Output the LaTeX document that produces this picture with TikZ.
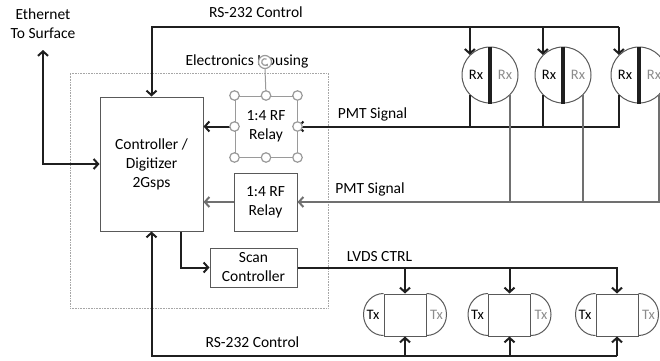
\documentclass[tikz,border=0pt]{standalone}
\usepackage{fontspec}
\setmainfont{Carlito}
\usetikzlibrary{arrows.meta}
\definecolor{boxc}{HTML}{595959}
\definecolor{linec}{HTML}{1F1F1F}
\definecolor{grayc}{HTML}{707070}
\definecolor{txtgray}{HTML}{8C8C8C}
\definecolor{hdlc}{HTML}{9A9A9A}
\definecolor{housec}{HTML}{A6A6A6}
\newcommand\dgfont{\fontsize{15.5}{19}\selectfont}
\newcommand\dgsmall{\fontsize{14.5}{16}\selectfont}
\begin{document}
\begin{tikzpicture}[x=1pt,y=1pt,
  box/.style={draw=boxc, line width=1pt, fill=white, align=center, font=\dgfont, inner sep=0pt},
  lbl/.style={font=\dgfont, inner sep=0pt, align=center, text=black},
  small/.style={font=\dgsmall, inner sep=0pt},
  wire/.style={draw=linec, line width=2pt},
  gwire/.style={draw=grayc, line width=2pt},
  tip/.style={-{Straight Barb[length=4.5pt,width=10pt]}},
  tips/.style={{Straight Barb[length=4.5pt,width=10pt]}-{Straight Barb[length=4.5pt,width=10pt]}},
  rxc/.style={circle, draw=boxc, line width=1pt, fill=white, minimum size=56pt, inner sep=0pt},
  txbox/.style={rectangle, draw=boxc, line width=1pt, minimum width=42pt, minimum height=42pt, inner sep=0pt},
  outl/.style={draw=boxc, line width=1pt},
  handle/.style={circle, draw=hdlc, line width=1.2pt, fill=white, minimum size=9.5pt, inner sep=0pt},
  housing/.style={draw=housec, densely dotted, line width=0.6pt, minimum width=258pt, minimum height=235pt, inner sep=0pt}
]
\useasboundingbox (0,0) rectangle (660,360);

% housing
\node[housing] (house) at (199,169.5) {};
\node[lbl] (houselbl) at (247,299) {Electronics Housing};

% main boxes
\node[box, minimum width=103pt, minimum height=134pt] (ctrl) at (151.5,196) {Controller /\\Digitizer\\2Gsps};
\node[box, draw=hdlc, minimum width=62pt, minimum height=61pt] (relay1) at (266,233.5) {1:4 RF\\Relay};
\node[box, minimum width=63pt, minimum height=58pt] (relay2) at (265.5,158) {1:4 RF\\Relay};
\node[box, minimum width=87pt, minimum height=39pt] (scan) at (253.5,92.5) {Scan\\Controller};

% Rx receivers
\foreach \n/\cx in {rx1/490, rx2/563, rx3/639} {
  \node[rxc] (\n) at (\cx,285) {};
  \draw[draw=linec, line width=3.5pt] (\n.north) -- (\n.south);
  \node[small] (\n a) at ([xshift=-14pt]\n.center) {Rx};
  \node[small, text=txtgray] (\n b) at ([xshift=15pt]\n.center) {Rx};
}

% Tx transmitters
\foreach \n/\cx in {tx1/405, tx2/509.5, tx3/617} {
  \node[txbox] (\n) at (\cx,45) {};
  \draw[outl] (\n.north west) arc[start angle=90, end angle=270, x radius=20, y radius=21];
  \draw[outl] (\n.north east) arc[start angle=90, end angle=-90, x radius=20, y radius=21];
  \node[small] (\n a) at ([xshift=-10.5pt]\n.west) {Tx};
  \node[small, text=txtgray] (\n b) at ([xshift=10pt]\n.east) {Tx};
}

% labels
\node[lbl] (eth) at (43,336) {Ethernet\\To Surface};
\node[lbl] (rstop) at (256,348) {RS-232 Control};
\node[lbl] (rsbot) at (252.5,18) {RS-232 Control};
\node[lbl] (pmt1) at (372.5,246) {PMT Signal};
\node[lbl] (pmt2) at (370,171) {PMT Signal};
\node[lbl] (lvds) at (379.5,103) {LVDS CTRL};

% bus coordinates
\coordinate (ethend) at (43,310);
\coordinate (rsbus) at (0,333);
\coordinate (rsbus2) at (0,4);

% Ethernet
\draw[wire, tips] (ethend) |- (ctrl.west);

% top RS-232 control
\draw[wire, tip] (rx3.135 |- rsbus) -- (ctrl.north |- rsbus) -- (ctrl.north);
\foreach \n in {rx1, rx2, rx3}
  \draw[wire, tip] (\n.135 |- rsbus) -- (\n.135);

% PMT signal 1 (black)
\draw[wire, tip] (rx3.225) |- (relay1.east);
\foreach \n in {rx1, rx2}
  \draw[wire] (\n.225) -- (\n.225 |- relay1.east);

% PMT signal 2 (gray)
\draw[gwire, tip] (rx3.315) |- (relay2.east);
\foreach \n in {rx1, rx2}
  \draw[gwire] (\n.315) -- (\n.315 |- relay2.east);

% relays to controller
\draw[wire, tip] (relay1.west) -- (relay1.west -| ctrl.east);
\draw[gwire, tip] (relay2.west) -- (relay2.west -| ctrl.east);

% controller to scan controller
\draw[wire, tip] ([xshift=29.5pt]ctrl.south) |- (scan.west);

% LVDS control
\draw[wire, tip] (scan.east) -| (tx3.north);
\foreach \n in {tx1, tx2}
  \draw[wire, tip] (\n.north |- scan.east) -- (\n.north);

% bottom RS-232 control
\draw[wire, tip] (tx3.south |- rsbus2) -- (ctrl.south |- rsbus2) -- (ctrl.south);
\foreach \n in {tx1, tx2, tx3}
  \draw[wire, tip] (\n.south |- rsbus2) -- (\n.south);

% selection handles on relay 1
\node[handle, minimum size=13pt] (rot) at (265,298) {};
\draw[draw=hdlc, line width=1pt] (rot.south) -- (relay1.north);
\draw[draw=hdlc, line width=1.2pt, -{Stealth[length=2.5pt,width=3pt]}] ([shift={(60:3.3)}]rot.center) arc[start angle=60, end angle=330, radius=3.3];
\foreach \a/\h in {north/hn, south/hs, east/he, west/hw, north east/hne, north west/hnw, south east/hse, south west/hsw}
  \node[handle] (\h) at (relay1.\a) {};
\end{tikzpicture}
\end{document}
